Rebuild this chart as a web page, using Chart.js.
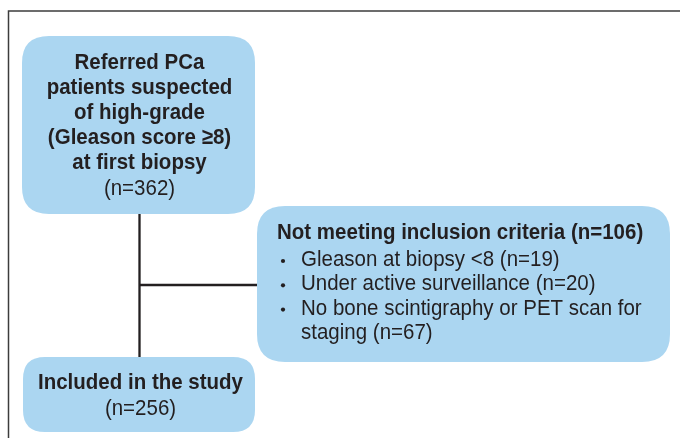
<!DOCTYPE html>
<html>
<head>
<meta charset="utf-8">
<script src="https://cdn.jsdelivr.net/npm/chart.js@4.4.1/dist/chart.umd.min.js"></script>
<style>
  html, body { margin: 0; padding: 0; background: #ffffff; }
  #wrap { width: 680px; height: 438px; position: relative; }
</style>
</head>
<body>
<div id="wrap"><canvas id="c" width="680" height="438"></canvas></div>
<script>
// ---- Flowchart content (values) ----
const nodeTitles = [
  ["Referred PCa", "patients suspected", "of high-grade", "(Gleason score \u22658)", "at first biopsy"],
  ["Not meeting inclusion criteria"],
  ["Included in the study"]
];
const nodeCounts = [362, 106, 256];
const exclusionReasons = ["Gleason at biopsy <8", "Under active surveillance", "No bone scintigraphy or PET scan for staging"];
const exclusionCounts = [19, 20, 67];

// ---- Layout (in scale units) ----
const layout = {
  boxes: [
    { x0: 22, x1: 255, y0: 36, y1: 214, r: 27 },
    { x0: 257, x1: 670, y0: 206, y1: 362, r: 28 },
    { x0: 23, x1: 255, y0: 357, y1: 432, r: 22 }
  ],
  trunkX: 139.5,
  branchY: 285
};
const style = {
  boxFill: '#abd6f1',
  text: '#231f20',
  line: '#231f20',
  frame: '#3c3c3c',
  family: '"Liberation Sans", Arial, Helvetica, sans-serif',
  size: 20.5,
  vScale: 1.09
};

const connectorVertical = [
  { x: layout.trunkX, y: layout.boxes[0].y1 },
  { x: layout.trunkX, y: layout.boxes[2].y0 }
];
const connectorBranch = [
  { x: layout.trunkX, y: layout.branchY },
  { x: layout.boxes[1].x0, y: layout.branchY }
];

function roundRect(ctx, x0, y0, x1, y1, r) {
  ctx.beginPath();
  ctx.moveTo(x0 + r, y0);
  ctx.lineTo(x1 - r, y0);
  ctx.quadraticCurveTo(x1, y0, x1, y0 + r);
  ctx.lineTo(x1, y1 - r);
  ctx.quadraticCurveTo(x1, y1, x1 - r, y1);
  ctx.lineTo(x0 + r, y1);
  ctx.quadraticCurveTo(x0, y1, x0, y1 - r);
  ctx.lineTo(x0, y0 + r);
  ctx.quadraticCurveTo(x0, y0, x0 + r, y0);
  ctx.closePath();
}

function wrap(ctx, text, maxW) {
  const words = text.split(' ');
  const lines = [];
  let cur = '';
  for (const w of words) {
    const t = cur ? cur + ' ' + w : w;
    if (ctx.measureText(t).width > maxW && cur) { lines.push(cur); cur = w; }
    else cur = t;
  }
  if (cur) lines.push(cur);
  return lines;
}

function drawText(ctx, t, px, py) {
  ctx.save();
  ctx.translate(px, py);
  ctx.scale(1, style.vScale);
  ctx.fillText(t, 0, 0);
  ctx.restore();
}

const flowPlugin = {
  id: 'flow',
  beforeDatasetsDraw(chart) {
    const { ctx, scales: { x, y } } = chart;
    ctx.save();
    // outer frame
    ctx.strokeStyle = style.frame;
    ctx.lineWidth = 1.5;
    ctx.beginPath();
    ctx.moveTo(x.getPixelForValue(8.5), y.getPixelForValue(440));
    ctx.lineTo(x.getPixelForValue(8.5), y.getPixelForValue(11));
    ctx.lineTo(x.getPixelForValue(682), y.getPixelForValue(11));
    ctx.stroke();
    // boxes
    ctx.fillStyle = style.boxFill;
    layout.boxes.forEach(b => {
      roundRect(ctx, x.getPixelForValue(b.x0), y.getPixelForValue(b.y0),
                x.getPixelForValue(b.x1), y.getPixelForValue(b.y1), b.r);
      ctx.fill();
    });
    ctx.restore();
  },
  afterDatasetsDraw(chart) {
    const { ctx, scales: { x, y } } = chart;
    ctx.save();
    ctx.fillStyle = style.text;
    ctx.textBaseline = 'middle';
    const bold = 'bold ' + style.size + 'px ' + style.family;
    const norm = style.size + 'px ' + style.family;

    // Box 1
    ctx.textAlign = 'center';
    const c1 = x.getPixelForValue(139.5);
    let yy = 63;
    ctx.font = bold;
    nodeTitles[0].forEach(t => { drawText(ctx, t, c1, y.getPixelForValue(yy)); yy += 25; });
    ctx.font = norm;
    drawText(ctx, '(n=' + nodeCounts[0] + ')', c1, y.getPixelForValue(yy + 1));

    // Box 2
    ctx.textAlign = 'left';
    ctx.font = bold;
    drawText(ctx, nodeTitles[1][0] + ' (n=' + nodeCounts[1] + ')', x.getPixelForValue(277), y.getPixelForValue(233));
    ctx.font = norm;
    let by = 260;
    exclusionReasons.forEach((r, i) => {
      const lines = wrap(ctx, r + ' (n=' + exclusionCounts[i] + ')', 355);
      ctx.beginPath();
      ctx.arc(x.getPixelForValue(283), y.getPixelForValue(by + 1), 2.1, 0, Math.PI * 2);
      ctx.fill();
      lines.forEach(l => { drawText(ctx, l, x.getPixelForValue(301), y.getPixelForValue(by)); by += 24.3; });
    });

    // Box 3
    ctx.textAlign = 'center';
    const c3 = x.getPixelForValue(140.5);
    ctx.font = bold;
    drawText(ctx, nodeTitles[2][0], c3, y.getPixelForValue(383));
    ctx.font = norm;
    drawText(ctx, '(n=' + nodeCounts[2] + ')', c3, y.getPixelForValue(409));
    ctx.restore();
  }
};

new Chart(document.getElementById('c'), {
  type: 'scatter',
  data: {
    datasets: [
      { data: connectorVertical, showLine: true, borderColor: style.line, borderWidth: 2.3, pointRadius: 0, borderCapStyle: 'butt' },
      { data: connectorBranch, showLine: true, borderColor: style.line, borderWidth: 2.3, pointRadius: 0, borderCapStyle: 'butt' }
    ]
  },
  options: {
    responsive: false,
    animation: false,
    layout: { padding: 0 },
    plugins: { legend: { display: false }, tooltip: { enabled: false } },
    scales: {
      x: { type: 'linear', min: 0, max: 680, display: false },
      y: { type: 'linear', min: 0, max: 438, reverse: true, display: false }
    }
  },
  plugins: [flowPlugin]
});
</script>
</body>
</html>
